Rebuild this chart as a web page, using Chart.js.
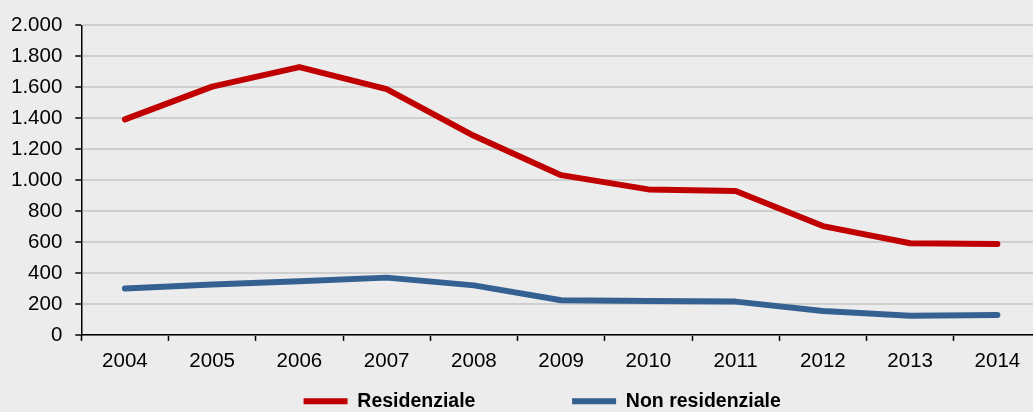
<!DOCTYPE html>
<html lang="it">
<head>
    <meta charset="UTF-8">
    <title>Residenziale / Non residenziale</title>
    <script src="https://cdn.jsdelivr.net/npm/chart.js"></script>
    <style>
        html, body {
            margin: 0;
            padding: 0;
            background: #ececec;
            overflow: hidden;
        }

        #chartContainer {
            width: 1041px;
            height: 412px;
        }
    </style>
</head>
<body>

    <div id="chartContainer">
        <canvas id="chartCanvas"></canvas>
    </div>

    <script>
        const years = ['2004', '2005', '2006', '2007', '2008', '2009', '2010', '2011', '2012', '2013', '2014'];
        const residenziale = [1392, 1604, 1730, 1588, 1286, 1032, 940, 930, 703, 592, 587];
        const nonResidenziale = [300, 326, 346, 370, 320, 224, 219, 215, 155, 124, 129];
        const yTicks = [0, 200, 400, 600, 800, 1000, 1200, 1400, 1600, 1800, 2000];

        const fmt = v => v.toLocaleString('it-IT');
        const FONT = 'Liberation Sans, Arial, sans-serif';

        // the legend has wide gaps between the two items: pad the label text
        const legendGap = [16, 7];

        const ctx = document.getElementById('chartCanvas').getContext('2d');

        const chart = new Chart(ctx, {
            type: 'line',
            data: {
                labels: years,
                datasets: [
                    {
                        label: 'Residenziale',
                        data: residenziale,
                        borderColor: '#c00000',
                        backgroundColor: '#c00000',
                        borderWidth: 6,
                        borderCapStyle: 'round',
                        borderJoinStyle: 'round',
                        pointRadius: 0,
                        tension: 0,
                        fill: false
                    },
                    {
                        label: 'Non residenziale',
                        data: nonResidenziale,
                        borderColor: '#356192',
                        backgroundColor: '#356192',
                        borderWidth: 6,
                        borderCapStyle: 'round',
                        borderJoinStyle: 'round',
                        pointRadius: 0,
                        tension: 0,
                        fill: false
                    }
                ]
            },
            options: {
                responsive: true,
                maintainAspectRatio: false,
                animation: false,
                layout: {
                    padding: { left: -2, right: 0, top: 14, bottom: -9 }
                },
                plugins: {
                    legend: {
                        position: 'bottom',
                        fullSize: false,
                        labels: {
                            usePointStyle: true,
                            pointStyle: 'line',
                            pointStyleWidth: 44,
                            padding: 10,
                            color: '#000',
                            font: { family: FONT, size: 19.5, weight: 'bold' },
                            generateLabels: c => {
                                const items = Chart.defaults.plugins.legend.labels.generateLabels(c);
                                items.forEach((it, i) => { it.text += '\u00a0'.repeat(legendGap[i] || 0); });
                                return items;
                            }
                        }
                    },
                    tooltip: { enabled: false }
                },
                scales: {
                    x: {
                        offset: true,
                        grid: {
                            offset: true,
                            drawOnChartArea: false,
                            drawTicks: true,
                            tickLength: 6,
                            tickColor: '#000',
                            tickWidth: 1.5
                        },
                        border: { color: '#000', width: 1.5 },
                        ticks: {
                            color: '#000',
                            padding: 8,
                            autoSkip: false,
                            maxRotation: 0,
                            font: { family: FONT, size: 20.5 }
                        }
                    },
                    y: {
                        min: 0,
                        max: 2000,
                        afterBuildTicks: scale => { scale.ticks = yTicks.map(v => ({ value: v })); },
                        grid: {
                            color: '#cfcfcf',
                            lineWidth: 2,
                            tickLength: 6,
                            tickColor: '#000',
                            tickWidth: 1.5
                        },
                        border: { color: '#000', width: 1.5 },
                        ticks: {
                            color: '#000',
                            padding: 13,
                            autoSkip: false,
                            callback: v => fmt(v),
                            font: { family: FONT, size: 20.5 }
                        }
                    }
                }
            }
        });
    </script>

</body>
</html>
